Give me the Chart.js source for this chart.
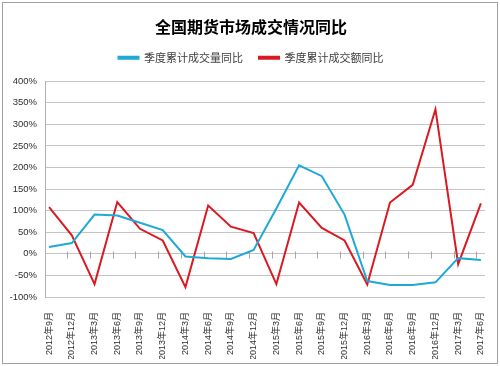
<!DOCTYPE html>
<html>
<head>
<meta charset="utf-8">
<script src="https://cdn.jsdelivr.net/npm/chart.js@4"></script>
<style>
html,body{margin:0;padding:0;background:#fff;}
#wrap{width:500px;height:366px;position:relative;}
</style>
</head>
<body>
<div id="wrap"><canvas id="c" width="500" height="366"></canvas></div>
<script>
const categories = ['2012年9月','2012年12月','2013年3月','2013年6月','2013年9月','2013年12月','2014年3月','2014年6月','2014年9月','2014年12月','2015年3月','2015年6月','2015年9月','2015年12月','2016年3月','2016年6月','2016年9月','2016年12月','2017年3月','2017年6月'];
const volumeYoY = [16, 25, 91, 89, 72, 55, -6, -10, -12, 9, 105, 205, 180, 91, -63, -72, -72, -66, -10, -14];
const amountYoY = [108, 43, -70, 120, 58, 31, -77, 112, 63, 48, -70, 119, 60, 31, -71, 119, 160, 335, -24, 117];
const seriesNames = ['季度累计成交量同比', '季度累计成交额同比'];
const titleText = '全国期货市场成交情况同比';
const yTicks = [-100, -50, 0, 50, 100, 150, 200, 250, 300, 350, 400];

const FONT = '"Liberation Sans", Arial, "Noto Sans CJK SC", sans-serif';
const CJK = '"Noto Sans CJK SC", "Liberation Sans", sans-serif';

const toPts = arr => arr.map((v, i) => ({x: i, y: v}));

const framePlugin = {
  id: 'frame',
  beforeDraw(chart) {
    const ctx = chart.ctx;
    ctx.save();
    ctx.fillStyle = '#fff';
    ctx.fillRect(0, 0, chart.width, chart.height);
    ctx.strokeStyle = '#a0a0a0';
    ctx.lineWidth = 1;
    ctx.strokeRect(2.5, 2.5, chart.width - 5, chart.height - 5);
    ctx.restore();
  }
};

const tickPlugin = {
  id: 'zeroTicks',
  beforeDatasetsDraw(chart) {
    const xs = chart.scales.x, ys = chart.scales.y, ctx = chart.ctx;
    const y0 = Math.round(ys.getPixelForValue(0)) + 0.5;
    ctx.save();
    ctx.strokeStyle = '#a6a6a6';
    ctx.lineWidth = 1;
    ctx.beginPath();
    for (let i = 1; i < categories.length; i++) {
      const x = Math.round(xs.getPixelForValue(i - 0.2)) + 0.5;
      ctx.moveTo(x, y0 - 3);
      ctx.lineTo(x, y0 + 4);
    }
    ctx.stroke();
    ctx.restore();
  }
};

const spacer = (pos, size) => ({
  type: 'linear', position: pos, display: true,
  grid: {display: false}, border: {display: false}, ticks: {display: false},
  afterFit(scale) { if (pos === 'top' || pos === 'bottom') scale.height = size; else scale.width = size; }
});

new Chart(document.getElementById('c'), {
  type: 'line',
  data: {
    datasets: [
      {label: seriesNames[0], data: toPts(volumeYoY), borderColor: '#1FA9D6', backgroundColor: '#1FA9D6', borderWidth: 2, pointRadius: 0, tension: 0},
      {label: seriesNames[1], data: toPts(amountYoY), borderColor: '#DA1A22', backgroundColor: '#DA1A22', borderWidth: 2, pointRadius: 0, tension: 0}
    ]
  },
  options: {
    responsive: false,
    animation: false,
    events: [],
    layout: {padding: {left: 10, right: 8, top: 0, bottom: 7}},
    plugins: {
      title: {
        display: true, text: titleText, color: '#000',
        font: {family: CJK, size: 16, weight: 'bold'},
        padding: {top: 17, bottom: 0}
      },
      legend: {
        display: true,
        labels: {
          color: '#404040', font: {family: CJK, size: 11},
          boxWidth: 20, boxHeight: 2, padding: 16
        }
      },
      tooltip: {enabled: false}
    },
    scales: {
      x: {
        type: 'linear', min: -0.18, max: categories.length - 1 + 0.18,
        afterBuildTicks(scale) { scale.ticks = categories.map((c, i) => ({value: i})); },
        afterFit(scale) { scale.height = 62; },
        grid: {display: false},
        border: {display: false},
        ticks: {
          autoSkip: false, minRotation: 90, maxRotation: 90, padding: 7,
          color: '#303030', font: {family: FONT, size: 9},
          callback: (v) => categories[v] ?? ''
        }
      },
      y: {
        min: -100, max: 400,
        afterBuildTicks(scale) { scale.ticks = yTicks.map(v => ({value: v})); },
        afterFit(scale) { scale.width = 35; },
        grid: {color: '#c4c4c4', lineWidth: 1, drawTicks: false},
        border: {display: true, color: '#b0b0b0'},
        ticks: {
          padding: 8, color: '#303030', font: {family: FONT, size: 9.5},
          callback: (v) => v + '%'
        }
      },
      spTop: spacer('top', 8),
      spRight: spacer('right', 7)
    }
  },
  plugins: [framePlugin, tickPlugin]
});
</script>
</body>
</html>
